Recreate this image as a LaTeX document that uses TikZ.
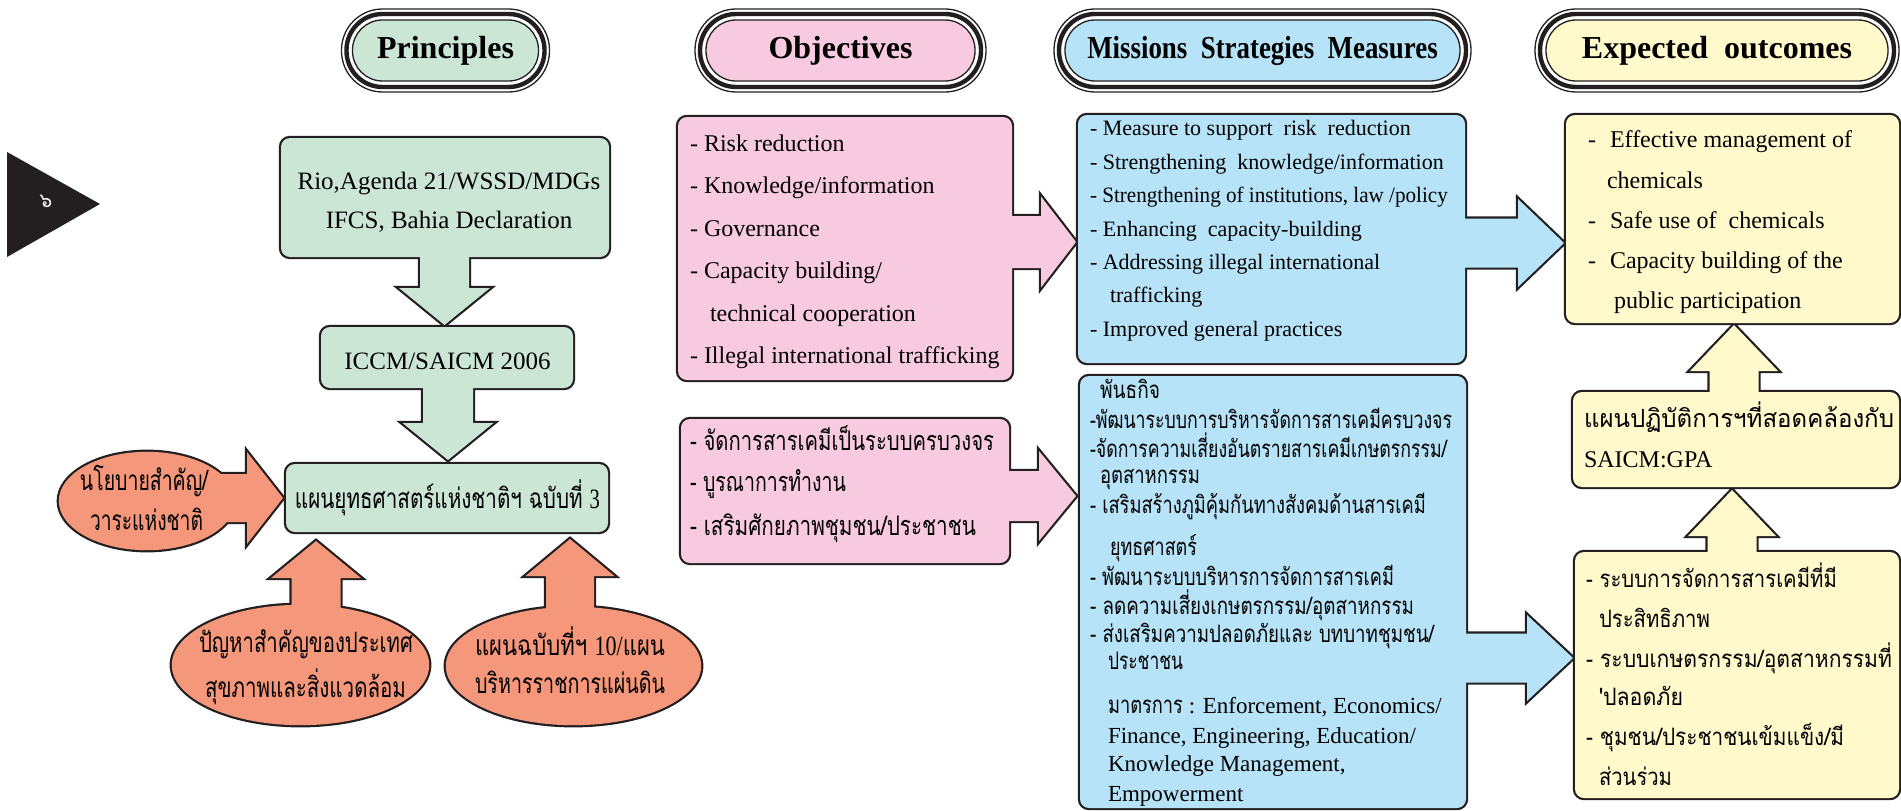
\documentclass[tikz,border=0pt]{standalone}
\usepackage{fontspec}
\usepackage{graphicx}
\setmainfont{Liberation Serif}
\newfontfamily\thfont[Script=Thai]{Loma}
\usetikzlibrary{calc,shapes.geometric}

\definecolor{ink}{HTML}{231F20}
\definecolor{mint}{HTML}{CCE6D6}
\definecolor{rose}{HTML}{F8CAE0}
\definecolor{sky}{HTML}{B7E3F8}
\definecolor{cream}{HTML}{FFF9CC}
\definecolor{salmon}{HTML}{F4977A}

% a Thai line squeezed to a given width (pt), height kept
\newcommand\fitw[2]{\resizebox{#1pt}{\height}{#2}}

% block arrows: #1 shaft root (inside the source shape), #2 tip,
% #3 half shaft width, #4 half head width, #5 head length
\newcommand\arrR[5]{let \p1=(#1), \p2=(#2) in
  (\x1,\y2+#3) -- (\x2-#5,\y2+#3) -- (\x2-#5,\y2+#4) -- (\x2,\y2)
  -- (\x2-#5,\y2-#4) -- (\x2-#5,\y2-#3) -- (\x1,\y2-#3) -- cycle}
\newcommand\arrU[5]{let \p1=(#1), \p2=(#2) in
  (\x2-#3,\y1) -- (\x2-#3,\y2-#5) -- (\x2-#4,\y2-#5) -- (\x2,\y2)
  -- (\x2+#4,\y2-#5) -- (\x2+#3,\y2-#5) -- (\x2+#3,\y1) -- cycle}
\newcommand\arrD[5]{let \p1=(#1), \p2=(#2) in
  (\x2-#3,\y1) -- (\x2-#3,\y2+#5) -- (\x2-#4,\y2+#5) -- (\x2,\y2)
  -- (\x2+#4,\y2+#5) -- (\x2+#3,\y2+#5) -- (\x2+#3,\y1) -- cycle}
% outline of a box node and of an ellipse node
\newcommand\boxp[1]{(#1.north west) rectangle (#1.south east)}
\newcommand\ellp[1]{let \p0=(#1.center), \p1=(#1.east), \p2=(#1.north) in
  (\p0) ellipse [x radius={\x1-\x0}, y radius={\y2-\y0}]}

\tikzset{
  geom/.style={rectangle, inner sep=0pt, outer sep=0pt},
  outline/.style={draw=ink, line width=4.4pt},
  rbox/.style={rounded corners=9pt},
  lt/.style={anchor=base west, inner sep=0pt, outer sep=0pt},
  ct/.style={anchor=base, inner sep=0pt, outer sep=0pt},
  titlefont/.style={font=\bfseries\fontsize{32}{36}\selectfont},
  en/.style={font=\fontsize{#1}{#1}\selectfont},
  th/.style={font=\thfont\fontsize{#1}{#1}\selectfont},
}

% column heading: triple-ringed pill
\newcommand\pill[5]{%
  \node[geom, minimum width=#3pt, minimum height=83pt] (#1) at (#2,50.5) {};
  \draw[ink, line width=1.3pt, fill=white, rounded corners=41pt]
    (#1.north west) rectangle (#1.south east);
  \draw[ink, line width=4.4pt, rounded corners=36pt]
    ([shift={(5pt,-5pt)}]#1.north west) rectangle ([shift={(-5pt,5pt)}]#1.south east);
  \draw[ink, line width=1.3pt, fill=#4, rounded corners=30pt]
    ([shift={(11pt,-11pt)}]#1.north west) rectangle ([shift={(-11pt,11pt)}]#1.south east);
  \node[ct, titlefont] (#1-title) at (#2,58) {#5};
}

\begin{document}
\begin{tikzpicture}[x=1pt,y=-1pt]
\useasboundingbox (0,0) rectangle (1901,811);

% page tab
\fill[ink] (7,152) -- (100,204) -- (7,257) -- cycle;
\node[th=20, text=white] (page) at (46,201) {๖};

% headings
\pill{hp}{445.5}{208}{mint}{Principles}
\pill{ho}{840.5}{291}{rose}{Objectives}
\pill{hm}{1262.5}{417}{sky}{\scalebox{0.84}[1]{Missions\ \ Strategies\ \ Measures}}
\pill{he}{1717}{364}{cream}{Expected\ \ outcomes}

% ---------- node geometry ----------
\node[geom, minimum width=328pt, minimum height=119pt] (rio)  at (445,197.5) {};
\node[geom, minimum width=252pt, minimum height=61pt]  (iccm) at (447,357.5) {};
\node[geom, minimum width=322pt, minimum height=68pt]  (plan) at (447,498) {};
\node[ellipse, inner sep=0pt, minimum width=176pt, minimum height=98pt]  (pol)  at (147,501) {};
\node[ellipse, inner sep=0pt, minimum width=257pt, minimum height=120pt] (prob) at (300.5,665) {};
\node[ellipse, inner sep=0pt, minimum width=255pt, minimum height=118pt] (nat)  at (573.5,666) {};
\node[geom, minimum width=334pt, minimum height=263pt] (obj1) at (845,248.5) {};
\node[geom, minimum width=328pt, minimum height=144pt] (obj2) at (845,491) {};
\node[geom, minimum width=387pt, minimum height=248pt] (mis1) at (1271.5,239) {};
\node[geom, minimum width=386pt, minimum height=432pt] (mis2) at (1273,592) {};
\node[geom, minimum width=333pt, minimum height=208pt] (out1) at (1732.5,219) {};
\node[geom, minimum width=326pt, minimum height=95pt]  (gpa)  at (1736,439.5) {};
\node[geom, minimum width=324pt, minimum height=246pt] (out2) at (1737,675) {};

% ---------- green column ----------
\draw[outline, rbox] \boxp{rio};
\draw[outline, rbox] \boxp{iccm};
\draw[outline, rbox] \boxp{plan};
\draw[outline] \arrD{[yshift=15pt]rio.south}{$(iccm.north)+(-2.5,-2)$}{24.5pt}{45.5pt}{37pt};
\draw[outline] \arrD{[yshift=15pt]iccm.south}{$(plan.north)+(1,-4)$}{25pt}{45.5pt}{37pt};
\fill[mint, rbox] \boxp{rio};
\fill[mint, rbox] \boxp{iccm};
\fill[mint, rbox] \boxp{plan};
\fill[mint] \arrD{[yshift=15pt]rio.south}{$(iccm.north)+(-2.5,-2)$}{24.5pt}{45.5pt}{37pt};
\fill[mint] \arrD{[yshift=15pt]iccm.south}{$(plan.north)+(1,-4)$}{25pt}{45.5pt}{37pt};

% ---------- inputs to the national plan ----------
\draw[outline] \ellp{pol};
\draw[outline] \ellp{prob};
\draw[outline] \ellp{nat};
\draw[outline] \arrR{pol.center}{$(plan.west)+(-3,0)$}{24pt}{46pt}{36pt};
\draw[outline] \arrU{prob.center}{$(plan.south)+(-131,9)$}{24.5pt}{45pt}{37pt};
\draw[outline] \arrU{nat.center}{$(plan.south)+(123,7)$}{24pt}{44.5pt}{37pt};
\fill[salmon] \ellp{pol};
\fill[salmon] \ellp{prob};
\fill[salmon] \ellp{nat};
\fill[salmon] \arrR{pol.center}{$(plan.west)+(-3,0)$}{24pt}{46pt}{36pt};
\fill[salmon] \arrU{prob.center}{$(plan.south)+(-131,9)$}{24.5pt}{45pt}{37pt};
\fill[salmon] \arrU{nat.center}{$(plan.south)+(123,7)$}{24pt}{44.5pt}{37pt};

% ---------- objectives ----------
\draw[outline, rbox] \boxp{obj1};
\draw[outline, rbox] \boxp{obj2};
\draw[outline] \arrR{[xshift=-15pt]obj1.east}{$(mis1.west)+(-2,3)$}{26pt}{45.5pt}{35pt};
\draw[outline] \arrR{[xshift=-15pt]obj2.east}{$(mis2.west)+(-4,-96)$}{25pt}{45pt}{37pt};
\fill[rose, rbox] \boxp{obj1};
\fill[rose, rbox] \boxp{obj2};
\fill[rose] \arrR{[xshift=-15pt]obj1.east}{$(mis1.west)+(-2,3)$}{26pt}{45.5pt}{35pt};
\fill[rose] \arrR{[xshift=-15pt]obj2.east}{$(mis2.west)+(-4,-96)$}{25pt}{45pt}{37pt};

% ---------- missions / strategies / measures ----------
\draw[outline, rbox] \boxp{mis1};
\draw[outline, rbox] \boxp{mis2};
\draw[outline] \arrR{[xshift=-15pt]mis1.east}{$(out1.west)+(-2,24)$}{24.5pt}{44pt}{46pt};
\draw[outline] \arrR{[xshift=-15pt]mis2.east}{$(out2.west)+(-2,-17)$}{24.5pt}{43pt}{46pt};
\fill[sky, rbox] \boxp{mis1};
\fill[sky, rbox] \boxp{mis2};
\fill[sky] \arrR{[xshift=-15pt]mis1.east}{$(out1.west)+(-2,24)$}{24.5pt}{44pt}{46pt};
\fill[sky] \arrR{[xshift=-15pt]mis2.east}{$(out2.west)+(-2,-17)$}{24.5pt}{43pt}{46pt};

% ---------- expected outcomes ----------
\draw[outline, rbox] \boxp{out1};
\draw[outline, rbox] \boxp{gpa};
\draw[outline, rbox] \boxp{out2};
\draw[outline] \arrU{[yshift=-15pt]gpa.north}{$(out1.south)+(1.5,2)$}{24.5pt}{44pt}{46pt};
\draw[outline] \arrU{[yshift=-15pt]out2.north}{$(gpa.south)+(-4,3)$}{24.5pt}{44pt}{46pt};
\fill[cream, rbox] \boxp{out1};
\fill[cream, rbox] \boxp{gpa};
\fill[cream, rbox] \boxp{out2};
\fill[cream] \arrU{[yshift=-15pt]gpa.north}{$(out1.south)+(1.5,2)$}{24.5pt}{44pt}{46pt};
\fill[cream] \arrU{[yshift=-15pt]out2.north}{$(gpa.south)+(-4,3)$}{24.5pt}{44pt}{46pt};

% ---------- texts: principles ----------
\node[ct, en=25] (rio-1) at (449,189) {Rio,Agenda 21/WSSD/MDGs};
\node[ct, en=25] (rio-2) at (449,228) {IFCS, Bahia Declaration};
\node[ct, en=25] (iccm-1) at (447.5,369) {ICCM/SAICM 2006};
\node[ct, th=28] (plan-1) at (447.5,508) {\fitw{305}{แผนยุทธศาสตร์แห่งชาติฯ ฉบับที่ {\rmfamily 3}}};
\node[ct, th=28] (pol-1) at (144,490) {\fitw{128}{นโยบายสำคัญ/}};
\node[ct, th=28] (pol-2) at (146.5,530) {\fitw{113}{วาระแห่งชาติ}};
\node[ct, th=28] (prob-1) at (306,652) {\fitw{214}{ปัญหาสำคัญของประเทศ}};
\node[ct, th=28] (prob-2) at (305.5,697) {\fitw{201}{สุขภาพและสิ่งแวดล้อม}};
\node[ct, th=28] (nat-1) at (570,655) {\fitw{190}{แผนฉบับที่ฯ {\rmfamily 10/}แผน}};
\node[ct, th=28] (nat-2) at (570,693) {\fitw{190}{บริหารราชการแผ่นดิน}};

% ---------- texts: objectives ----------
\node[lt, en=24] (obj1-1) at (690,151) {- Risk reduction};
\node[lt, en=24] (obj1-2) at (690,193) {- Knowledge/information};
\node[lt, en=24] (obj1-3) at (690,236) {- Governance};
\node[lt, en=24] (obj1-4) at (690,278) {- Capacity building/};
\node[lt, en=24] (obj1-5) at (710,321) {technical cooperation};
\node[lt, en=24] (obj1-6) at (690,363) {- Illegal international trafficking};
\node[lt, th=27] (obj2-1) at (690,450) {\fitw{304}{- จัดการสารเคมีเป็นระบบครบวงจร}};
\node[lt, th=27] (obj2-2) at (690,491) {\fitw{156}{- บูรณาการทำงาน}};
\node[lt, th=27] (obj2-3) at (690,535) {\fitw{286}{- เสริมศักยภาพชุมชน/ประชาชน}};

% ---------- texts: missions ----------
\node[lt, en=22] (mis1-1) at (1090,135) {- Measure to support\ \ risk\ \ reduction};
\node[lt, en=22] (mis1-2) at (1090,169) {- Strengthening\ \ knowledge/information};
\node[lt, en=22] (mis1-3) at (1090,202) {\scalebox{0.96}[1]{- Strengthening of institutions, law /policy}};
\node[lt, en=22] (mis1-4) at (1090,236) {- Enhancing\ \ capacity-building};
\node[lt, en=22] (mis1-5) at (1090,269) {- Addressing illegal international};
\node[lt, en=22] (mis1-6) at (1110,302) {trafficking};
\node[lt, en=22] (mis1-7) at (1090,336) {- Improved general practices};
\node[lt, th=24] (mis2-1) at (1100,398) {\fitw{60}{พันธกิจ}};
\node[lt, th=24] (mis2-2) at (1090,428) {\fitw{362}{-พัฒนาระบบการบริหารจัดการสารเคมีครบวงจร}};
\node[lt, th=24] (mis2-3) at (1090,457) {\fitw{357}{-จัดการความเสี่ยงอันตรายสารเคมีเกษตรกรรม/}};
\node[lt, th=24] (mis2-4) at (1100,483) {\fitw{100}{อุตสาหกรรม}};
\node[lt, th=24] (mis2-5) at (1090,513) {\fitw{336}{- เสริมสร้างภูมิคุ้มกันทางสังคมด้านสารเคมี}};
\node[lt, th=24] (mis2-6) at (1110,555) {\fitw{87}{ยุทธศาสตร์}};
\node[lt, th=24] (mis2-7) at (1090,585) {\fitw{304}{- พัฒนาระบบบริหารการจัดการสารเคมี}};
\node[lt, th=24] (mis2-8) at (1090,614) {\fitw{324}{- ลดความเสี่ยงเกษตรกรรม/อุตสาหกรรม}};
\node[lt, th=24] (mis2-9) at (1090,642) {\fitw{344}{- ส่งเสริมความปลอดภัยและ บทบาทชุมชน/}};
\node[lt, th=24] (mis2-10) at (1108,669) {\fitw{75}{ประชาชน}};
\node[lt, en=23] (mis2-11) at (1108,713) {{\thfont\fontsize{24}{24}\selectfont\fitw{75}{มาตรการ}}\ : Enforcement, Economics/};
\node[lt, en=23] (mis2-12) at (1108,743) {Finance, Engineering, Education/};
\node[lt, en=23] (mis2-13) at (1108,771) {Knowledge Management,};
\node[lt, en=23] (mis2-14) at (1108,801) {Empowerment};

% ---------- texts: expected outcomes ----------
\node[lt, en=24] (out1-1) at (1588,147) {-\hspace{14pt}Effective management of};
\node[lt, en=24] (out1-2) at (1607,188) {chemicals};
\node[lt, en=24] (out1-3) at (1588,228) {-\hspace{14pt}Safe use of\ \ chemicals};
\node[lt, en=24] (out1-4) at (1588,268) {-\hspace{14pt}Capacity building of the};
\node[lt, en=24] (out1-5) at (1614,308) {public participation};
\node[lt, th=25] (gpa-1) at (1584,427) {\fitw{310}{แผนปฏิบัติการฯที่สอดคล้องกับ}};
\node[lt, en=24] (gpa-2) at (1584,467) {SAICM:GPA};
\node[lt, th=24] (out2-1) at (1586,587) {\fitw{251}{- ระบบการจัดการสารเคมีที่มี}};
\node[lt, th=24] (out2-2) at (1599,627) {\fitw{111}{ประสิทธิภาพ}};
\node[lt, th=24] (out2-3) at (1586,667) {\fitw{306}{- ระบบเกษตรกรรม/อุตสาหกรรมที่}};
\node[lt, th=24] (out2-4) at (1599,705) {\fitw{84}{'ปลอดภัย}};
\node[lt, th=24] (out2-5) at (1586,745) {\fitw{258}{- ชุมชน/ประชาชนเข้มแข็ง/มี}};
\node[lt, th=24] (out2-6) at (1599,785) {\fitw{73}{ส่วนร่วม}};
\end{tikzpicture}
\end{document}
